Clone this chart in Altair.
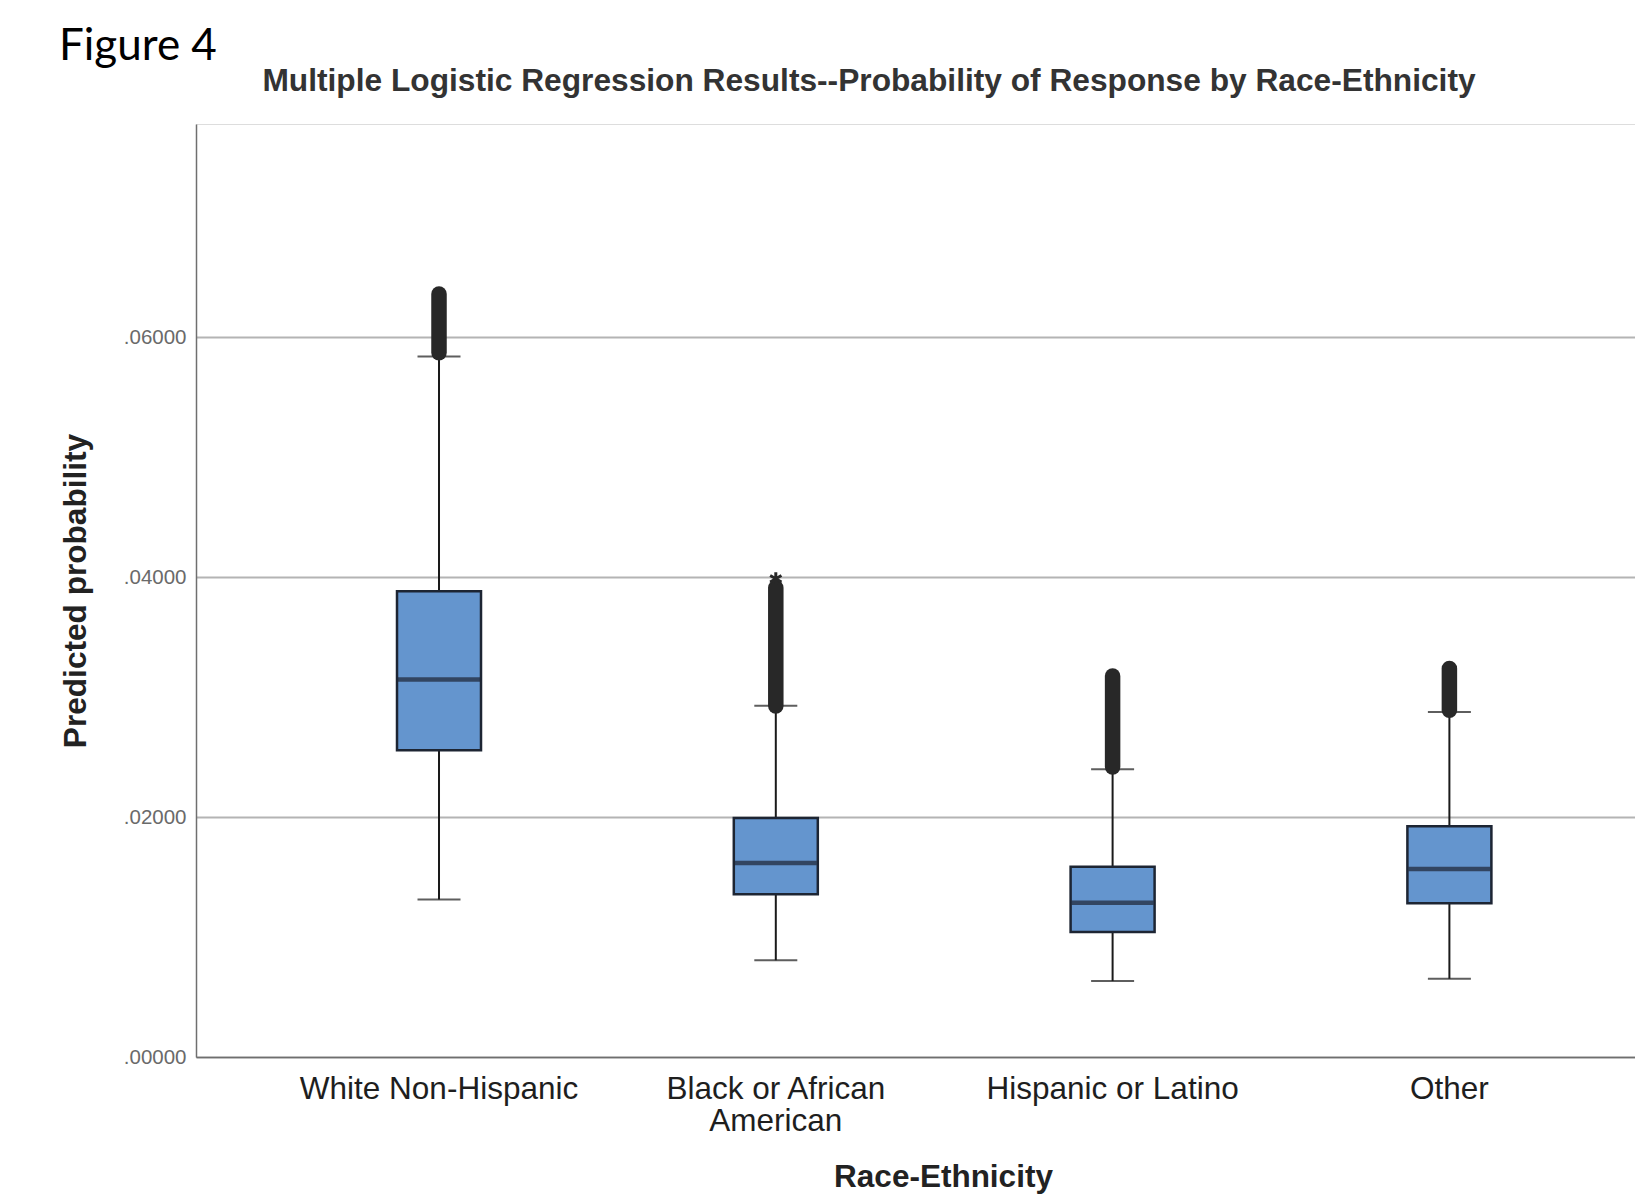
import altair as alt
import pandas as pd

categories = ["White Non-Hispanic", "Black or African American", "Hispanic or Latino", "Other"]
lower_whisker = [0.01313, 0.00806, 0.00633, 0.00653]
q1 = [0.02556, 0.01356, 0.01042, 0.01281]
median = [0.03145, 0.01617, 0.01285, 0.01567]
q3 = [0.03881, 0.01992, 0.01585, 0.01923]
upper_whisker = [0.05837, 0.02928, 0.02397, 0.02875]
outlier_low = [0.05868, 0.02924, 0.02416, 0.02890]
outlier_high = [0.06359, 0.03910, 0.03175, 0.03238]
extreme_category = ["Black or African American"]
extreme_value = [0.03985]

df = pd.DataFrame({
    "category": categories,
    "lw": lower_whisker,
    "q1": q1,
    "med": median,
    "q3": q3,
    "uw": upper_whisker,
    "ol": outlier_low,
    "oh": outlier_high,
})
ext = pd.DataFrame({"category": extreme_category, "v": extreme_value})

FONT = "Liberation Sans"

x_enc = alt.X(
    "category:N",
    sort=categories,
    scale=alt.Scale(paddingInner=0, paddingOuter=0.1363, align=0.8126),
    title="Race-Ethnicity",
    axis=alt.Axis(
        labelAngle=0,
        labelFont=FONT,
        labelFontSize=31.5,
        labelColor="#1e1e1e",
        labelPadding=16,
        labelLineHeight=32,
        labelLimit=500,
        labelExpr="datum.label == 'Black or African American' ? ['Black or African', 'American'] : datum.label",
        ticks=False,
        grid=False,
        domainColor="#6f6f6f",
        domainWidth=1.5,
        titleFont=FONT,
        titleFontSize=31.5,
        titleFontWeight="bold",
        titleColor="#222222",
        titleX=747,
        titleY=129,
        titleAlign="center",
        titleBaseline="alphabetic",
    ),
)

y_scale = alt.Scale(domain=[0, 0.07775], nice=False, zero=True)
y_axis = alt.Axis(
    values=[0, 0.02, 0.04, 0.06],
    labelExpr="substring(format(datum.value, '.5f'), 1)",
    labelFont=FONT,
    labelFontSize=20.5,
    labelColor="#6a6a6a",
    labelPadding=10,
    ticks=False,
    grid=True,
    gridColor="#b4b4b4",
    gridWidth=2,
    domainColor="#6f6f6f",
    domainWidth=1.5,
    title="Predicted probability",
    titleFont=FONT,
    titleFontSize=31.6,
    titleFontWeight="bold",
    titleColor="#222222",
    titleX=-119.5,
    titleY=466.5,
    titleAlign="center",
    titleBaseline="middle",
    titleAngle=270,
)

base = alt.Chart(df)
xc = alt.X("category:N", sort=categories)

whisker = base.mark_rule(color="#1a1a1a", strokeWidth=2).encode(
    x=x_enc,
    y=alt.Y("lw:Q", scale=y_scale, axis=y_axis),
    y2="uw:Q",
)
caps_low = base.mark_tick(color="#1a1a1a", size=43, thickness=2).encode(x=xc, y=alt.Y("lw:Q"))
caps_high = base.mark_tick(color="#1a1a1a", size=43, thickness=2).encode(x=xc, y=alt.Y("uw:Q"))
outliers = base.mark_rule(color="#282828", strokeWidth=15.5, strokeCap="round").encode(
    x=xc, y=alt.Y("ol:Q"), y2="oh:Q"
)
box = base.mark_bar(size=84, fill="#6495CE", stroke="#1d2533", strokeWidth=2.5).encode(
    x=xc, y=alt.Y("q1:Q"), y2="q3:Q"
)
med = base.mark_tick(color="#1c2333", size=82, thickness=4.5).encode(x=xc, y=alt.Y("med:Q"))
star = alt.Chart(ext).mark_point(
    shape="M0,-1L0,1M-0.866,-0.5L0.866,0.5M-0.866,0.5L0.866,-0.5",
    filled=False,
    strokeWidth=3,
    size=170,
    color="#282828",
    opacity=1,
).encode(x=xc, y=alt.Y("v:Q"))

fig_label = alt.Chart(pd.DataFrame({"t": ["Figure 4"]})).mark_text(
    font="Lato", fontSize=44, align="left", baseline="alphabetic", color="#000000"
).encode(x=alt.value(-137), y=alt.value(-64), text="t:N")

main_title = alt.Chart(
    pd.DataFrame({"t": ["Multiple Logistic Regression Results--Probability of Response by Race-Ethnicity"]})
).mark_text(
    font=FONT, fontSize=31.7, fontWeight="bold", align="center", baseline="alphabetic", color="#333333"
).encode(x=alt.value(673), y=alt.value(-33), text="t:N")

chart = (
    alt.layer(whisker, caps_low, caps_high, outliers, box, med, star, fig_label, main_title)
    .properties(
        width=1439,
        height=933,
        autosize=alt.AutoSizeParams(type="none"),
        padding={"left": 188, "top": 116, "right": 0, "bottom": 139},
    )
    .configure_view(stroke=None)
    .configure(background="white")
)

chart.save("out.html", embed_options={"renderer": "svg", "actions": False})
